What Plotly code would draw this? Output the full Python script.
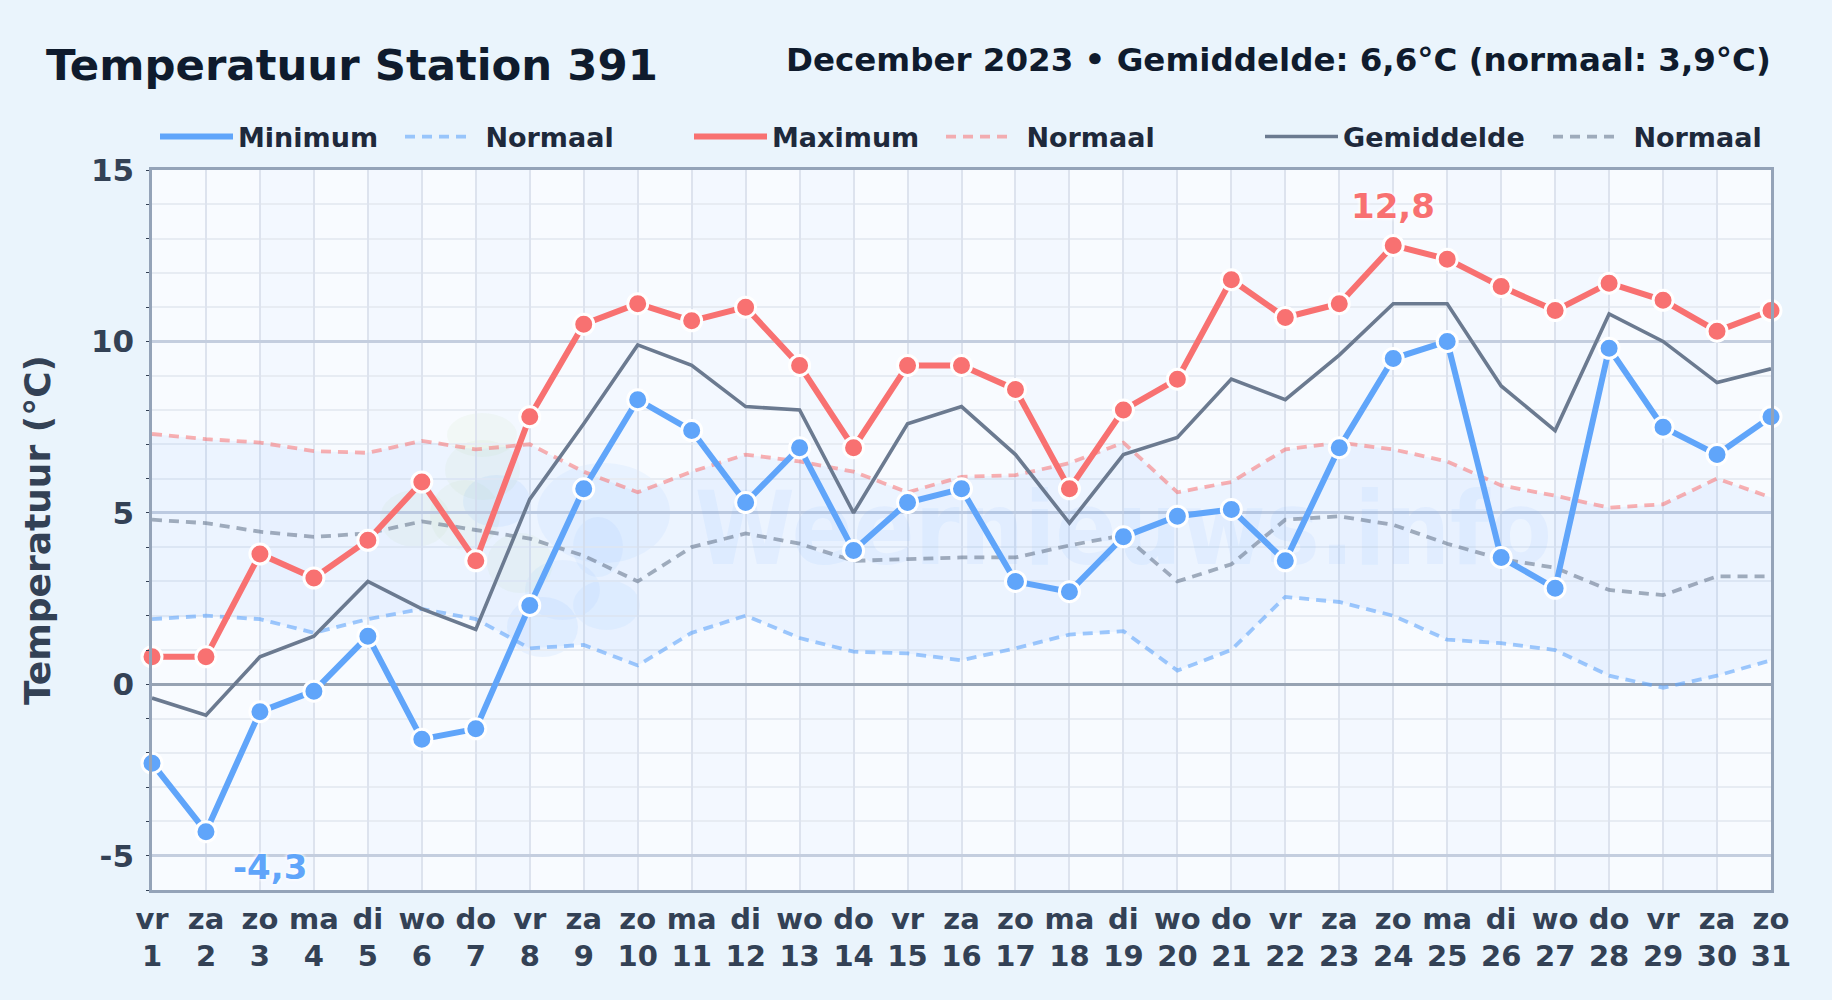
import plotly.graph_objects as go

days = list(range(1, 32))
weekdays = ["vr","za","zo","ma","di","wo","do","vr","za","zo","ma","di","wo","do","vr","za","zo","ma","di","wo","do","vr","za","zo","ma","di","wo","do","vr","za","zo"]
tmin = [-2.3,-4.3,-0.8,-0.2,1.4,-1.6,-1.3,2.3,5.7,8.3,7.4,5.3,6.9,3.9,5.3,5.7,3.0,2.7,4.3,4.9,5.1,3.6,6.9,9.5,10.0,3.7,2.8,9.8,7.5,6.7,7.8]
tmax = [0.8,0.8,3.8,3.1,4.2,5.9,3.6,7.8,10.5,11.1,10.6,11.0,9.3,6.9,9.3,9.3,8.6,5.7,8.0,8.9,11.8,10.7,11.1,12.8,12.4,11.6,10.9,11.7,11.2,10.3,10.9]
tavg = [-0.4,-0.9,0.8,1.4,3.0,2.2,1.6,5.4,7.6,9.9,9.3,8.1,8.0,5.0,7.6,8.1,6.7,4.7,6.7,7.2,8.9,8.3,9.6,11.1,11.1,8.7,7.4,10.8,10.0,8.8,9.2]
nmin = [1.9,2.0,1.9,1.5,1.9,2.2,1.9,1.05,1.15,0.55,1.5,2.0,1.35,0.95,0.9,0.7,1.05,1.45,1.55,0.4,1.0,2.55,2.4,2.0,1.3,1.2,1.0,0.25,-0.1,0.25,0.7]
nmax = [7.3,7.15,7.05,6.8,6.75,7.1,6.85,7.0,6.2,5.6,6.2,6.7,6.5,6.2,5.6,6.05,6.1,6.45,7.05,5.6,5.9,6.85,7.05,6.85,6.5,5.8,5.5,5.15,5.25,6.0,5.45]
navg = [4.8,4.7,4.45,4.3,4.4,4.75,4.5,4.25,3.75,3.0,4.0,4.4,4.1,3.6,3.65,3.7,3.7,4.05,4.35,3.0,3.5,4.8,4.9,4.65,4.1,3.65,3.4,2.75,2.6,3.15,3.15]
tick_labels = [f"{w}<br>{d}" for w, d in zip(weekdays, days)]
y_ticks = [-5, 0, 5, 10, 15]
y_tick_labels = ["-5", "0", "5", "10", "15"]

W, H = 1832, 1000
L, R, T, B = 152, 1771, 170, 890
FONT = "DejaVu Sans"
BLUE, RED, GREY = "#60A5FA", "#F87171", "#6B7A90"
INK = "#0F1B2D"
AX = "#334155"

fig = go.Figure()
# watermark
fig.add_trace(go.Scatter(x=[19], y=[4.25], mode="text", text=["Weernieuws.info"], showlegend=False, hoverinfo="skip",
    textfont=dict(family="DejaVu Sans Condensed", size=101, color="rgba(96,165,250,0.08)", weight="bold")))
# normal band
fig.add_trace(go.Scatter(x=days, y=nmin, mode="lines", line=dict(width=0), showlegend=False, hoverinfo="skip"))
fig.add_trace(go.Scatter(x=days, y=nmax, mode="lines", line=dict(width=0), fill="tonexty", fillcolor="rgba(96,165,250,0.08)", showlegend=False, hoverinfo="skip"))

dash = "10px,7px"
def line(y, name, color, width, legend, dashed=False):
    fig.add_trace(go.Scatter(x=days, y=y, mode="lines", name=name, legend=legend,
        line=dict(color=color, width=width, dash=dash if dashed else "solid")))
def marks(y, color):
    fig.add_trace(go.Scatter(x=days, y=y, mode="markers", showlegend=False, cliponaxis=False,
        marker=dict(color=color, size=20, line=dict(color="white", width=3))))

line(nmin, "\u00a0Normaal", "rgba(96,165,250,0.6)", 3.8, "legend2", True)
line(nmax, "\u00a0Normaal", "rgba(248,113,113,0.55)", 3.8, "legend4", True)
line(navg, "\u00a0Normaal", "rgba(107,122,144,0.6)", 3.8, "legend6", True)
line(tavg, "Gemiddelde", GREY, 3.6, "legend5")
line(tmax, "Maximum", RED, 6, "legend3")
marks(tmax, RED)
line(tmin, "Minimum", BLUE, 6, "legend")
marks(tmin, BLUE)

halo = "0 0 4px white, 0 0 4px white"
fig.add_annotation(x=days[tmax.index(max(tmax))], y=max(tmax), yshift=39, text=str(max(tmax)).replace(".", ","), showarrow=False,
    font=dict(family=FONT, size=34, color=RED, weight="bold", shadow=halo))
fig.add_annotation(x=days[tmin.index(min(tmin))], y=min(tmin), xshift=64, yshift=-35, text=str(min(tmin)).replace(".", ","), showarrow=False,
    font=dict(family=FONT, size=34, color=BLUE, weight="bold", shadow=halo))

fig.add_annotation(xref="paper", yref="paper", x=(44-L)/(R-L), y=(T-65)/(B-T)+1, xanchor="left", yanchor="middle", showarrow=False,
    text="Temperatuur Station 391", font=dict(family=FONT, size=43.4, color=INK, weight="bold"))
fig.add_annotation(xref="paper", yref="paper", x=1, xshift=2, y=(T-60)/(B-T)+1, xanchor="right", yanchor="middle", showarrow=False,
    text="December 2023 • Gemiddelde: 6,6°C (normaal: 3,9°C)", font=dict(family=FONT, size=32.5, color=INK, weight="bold"))

# alternating day bands in the plot background
for d in days[2:-2:2]:
    fig.add_shape(type="rect", xref="x", yref="paper", layer="below", line_width=0, fillcolor="rgba(96,165,250,0.03)",
        x0=d, x1=d+1, y0=0, y1=1)

# watermark logo
G1, B1, B2 = "rgba(190,225,150,0.09)", "rgba(96,165,250,0.07)", "rgba(96,165,250,0.09)"
for x0, x1, y0, y1, col in [(447,517,413,457,G1),(445,520,440,500,G1),(380,450,490,547,G1),(487,553,533,593,G1),(430,500,480,550,G1),
                            (463,530,475,527,B2),(537,670,463,563,B1),(573,623,517,577,B1),(573,640,580,630,B1),(507,578,597,657,B2),(525,600,560,620,B1)]:
    fig.add_shape(type="circle", xref="paper", yref="paper", layer="between", line_width=0, fillcolor=col,
        x0=(x0-L)/(R-L), x1=(x1-L)/(R-L), y0=1-(y1-T)/(B-T), y1=1-(y0-T)/(B-T))

legend_pos = {"legend":(160,73), "legend2":(405,66), "legend3":(694,73), "legend4":(946,66), "legend5":(1265,73), "legend6":(1553,66)}
legends = {k: dict(x=(v-5-L)/(R-L), xanchor="left", y=(T-137)/(B-T)+1, yanchor="middle", orientation="h",
                   bgcolor="rgba(0,0,0,0)", itemwidth=iw, font=dict(family=FONT, size=27, color="#1E293B", weight="bold"))
           for k, (v, iw) in legend_pos.items()}

fig.update_layout(
    width=W, height=H, margin=dict(l=L, r=W-R, t=T, b=H-B), autosize=False,
    paper_bgcolor="#EAF4FC", plot_bgcolor="#F8FBFF", showlegend=True, hovermode=False,
    font=dict(family=FONT, color=AX), **legends,
    xaxis=dict(range=[1, 31], tickmode="array", tickvals=days, ticktext=tick_labels, showgrid=True, gridcolor="#DDE3EE", gridwidth=1.5,
               zeroline=False, showline=True, linecolor="#94A3B8", linewidth=2.5, mirror=True, ticks="", ticklabelstandoff=1,
               tickfont=dict(family=FONT, size=29, color=AX, weight="bold"), tickangle=0),
    yaxis=dict(range=[-6, 15], tickmode="array", tickvals=y_ticks, ticktext=y_tick_labels, showgrid=True, gridcolor="#C4CEDF", gridwidth=2.5,
               zeroline=True, zerolinecolor="#97A3B3", zerolinewidth=2.5, showline=True, linecolor="#94A3B8", linewidth=2.5, mirror=True,
               ticks="", ticklabelstandoff=9, tickfont=dict(family=FONT, size=31, color=AX, weight="bold"),
               minor=dict(dtick=1, tick0=0, showgrid=True, gridcolor="#E7ECF3", gridwidth=2, ticks="outside", ticklen=3, tickcolor="#334155", tickwidth=1),
               title=dict(text="Temperatuur (°C)", font=dict(family=FONT, size=36, color=AX, weight="bold"), standoff=30)),
)
fig.write_html("out.html", post_script="document.body.style.margin='0';", config=dict(displayModeBar=False))
